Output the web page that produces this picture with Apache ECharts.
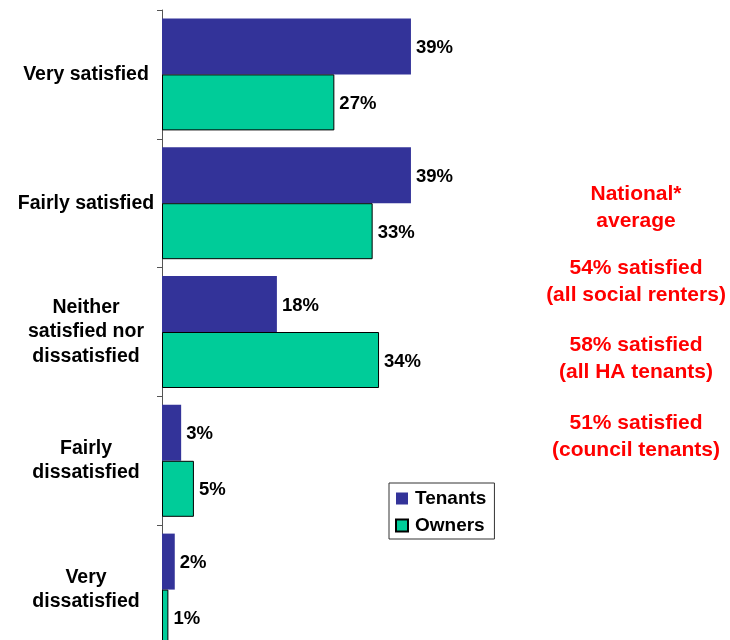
<!DOCTYPE html>
<html>
<head>
<meta charset="utf-8">
<script src="https://cdn.jsdelivr.net/npm/echarts@6/dist/echarts.min.js"></script>
<style>
  html, body { margin: 0; padding: 0; background: #fff; }
  #chart { width: 730px; height: 640px; }
</style>
</head>
<body>
<div id="chart"></div>
<script>
// Satisfaction categories, top to bottom
const categories = [
  'Very satisfied',
  'Fairly satisfied',
  'Neither\nsatisfied nor\ndissatisfied',
  'Fairly\ndissatisfied',
  'Very\ndissatisfied'
];
// Percentages per group
const tenants = [39, 39, 18, 3, 2];
const owners = [27, 33, 34, 5, 1];
// National comparison notes
const noteBlocks = [
  ['National*', 'average'],
  ['54% satisfied', '(all social renters)'],
  ['58% satisfied', '(all HA tenants)'],
  ['51% satisfied', '(council tenants)']
];

const FONT = '"Liberation Sans", Arial, sans-serif';
const chart = echarts.init(document.getElementById('chart'));

const valueLabel = {
  show: true,
  position: 'right',
  distance: 5,
  offset: [0, 1.5],
  formatter: '{c}%',
  color: '#000',
  fontFamily: FONT,
  fontWeight: 'bold',
  fontSize: 18.5
};

// Red note blocks at the right, each centred on x = 636
const NOTE_LH = 27;
const blockCenters = [194, 268, 345, 423];
const noteTexts = noteBlocks.map((lines, i) => ({
  type: 'text',
  x: 636,
  y: blockCenters[i] - NOTE_LH / 2,
  style: {
    text: lines.join('\n'),
    align: 'center',
    verticalAlign: 'top',
    fill: '#ff0000',
    fontFamily: FONT,
    fontWeight: 'bold',
    fontSize: 21,
    lineHeight: NOTE_LH
  }
}));

chart.setOption({
  animation: false,
  backgroundColor: '#fff',
  grid: {
    left: 162, top: 10, width: 383, height: 644,
    containLabel: false,
    outerBoundsMode: 'none'
  },
  xAxis: {
    type: 'value',
    min: 0,
    max: 60,
    show: false
  },
  yAxis: {
    type: 'category',
    data: categories,
    inverse: true,
    axisLine: { show: true, lineStyle: { color: '#555', width: 1 } },
    axisTick: { show: true, length: 5, lineStyle: { color: '#555' } },
    axisLabel: {
      align: 'center',
      margin: 76,
      color: '#000',
      fontFamily: FONT,
      fontWeight: 'bold',
      fontSize: 19.5,
      lineHeight: 24.5,
      padding: [4, 0, 0, 0]
    },
    splitLine: { show: false }
  },
  legend: {
    orient: 'vertical',
    left: 389,
    top: 483,
    data: ['Tenants', 'Owners'],
    icon: 'rect',
    itemWidth: 12,
    itemHeight: 12,
    itemGap: 8,
    padding: [6, 8, 4, 6],
    borderColor: '#333',
    borderWidth: 1,
    textStyle: { color: '#000', fontFamily: FONT, fontWeight: 'bold', fontSize: 19, padding: [0, 0, 0, 2] }
  },
  series: [
    {
      name: 'Tenants',
      type: 'bar',
      data: tenants,
      barWidth: 56,
      barGap: '0%',
      barCategoryGap: '12.5%',
      itemStyle: { color: '#333399' },
      label: valueLabel
    },
    {
      name: 'Owners',
      type: 'bar',
      data: owners,
      barWidth: 56,
      itemStyle: { color: '#00cc99', borderColor: '#000', borderWidth: 1 },
      label: valueLabel
    }
  ],
  graphic: noteTexts
});
</script>
</body>
</html>
